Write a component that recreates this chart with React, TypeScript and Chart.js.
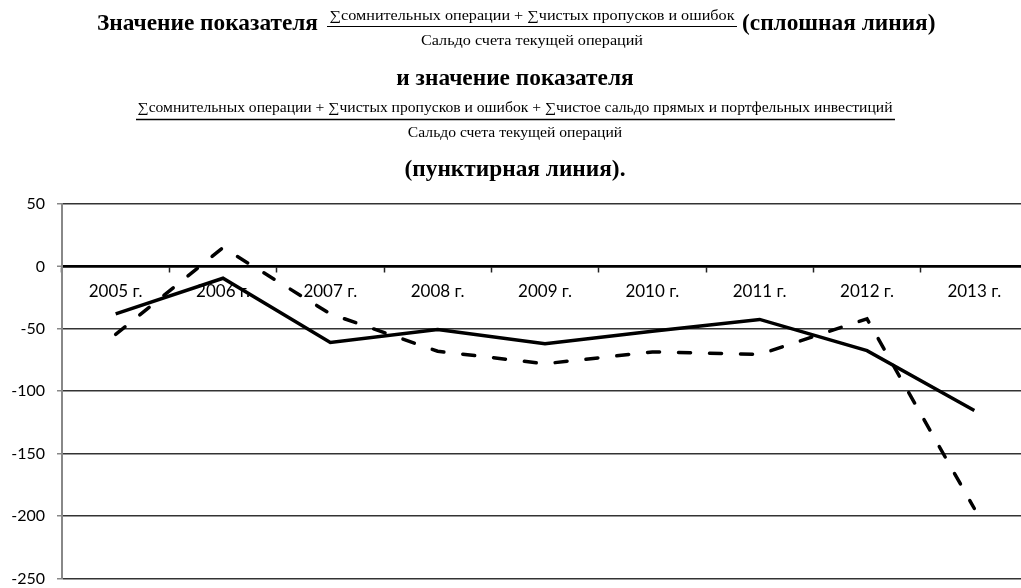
import React, { useEffect, useRef } from "react";
import { Chart, registerables } from "chart.js";

Chart.register(...registerables);

const categories = ["2005 г.", "2006 г.", "2007 г.", "2008 г.", "2009 г.", "2010 г.", "2011 г.", "2012 г.", "2013 г."];
const solidValues = [-38, -9.5, -61, -50.5, -62, -52, -42.5, -67.5, -115.5];
const dashedValues = [-54.5, 15, -38, -68, -78, -68.5, -70.5, -42, -194];
const yMin = -250;
const yMax = 50;
const yStep = 50;

const titleLead = "Значение показателя";
const titleSolid = "(сплошная линия)";
const titleLine2 = "и значение показателя";
const titleDashed = "(пунктирная линия).";
const numerator1 = "∑сомнительных операции + ∑чистых пропусков и ошибок";
const numerator2 = "∑сомнительных операции + ∑чистых пропусков и ошибок + ∑чистое сальдо прямых и портфельных инвестиций";
const denominator = "Сальдо счета текущей операций";

const BOLD = "bold 24px 'Liberation Serif', 'Times New Roman', serif";
const REG = "14px 'Liberation Serif', 'Times New Roman', serif";

function drawScaled(ctx: CanvasRenderingContext2D, text: string, font: string, x: number, y: number, sx: number, align: "left" | "center") {
  ctx.save();
  ctx.font = font;
  ctx.textBaseline = "middle";
  ctx.textAlign = align;
  ctx.fillStyle = "#000";
  ctx.translate(x, y);
  ctx.scale(sx, 1);
  ctx.fillText(text, 0, 0);
  ctx.restore();
}

function scaleFor(ctx: CanvasRenderingContext2D, text: string, font: string, width: number) {
  ctx.save();
  ctx.font = font;
  const w = ctx.measureText(text).width;
  ctx.restore();
  return width / w;
}

function hLine(ctx: CanvasRenderingContext2D, x1: number, x2: number, y: number, w: number) {
  ctx.save();
  ctx.strokeStyle = "#000";
  ctx.lineWidth = w;
  ctx.beginPath();
  ctx.moveTo(x1, y);
  ctx.lineTo(x2, y);
  ctx.stroke();
  ctx.restore();
}

const titlePlugin = {
  id: "formulaTitle",
  beforeDraw(chart: any) {
    const ctx: CanvasRenderingContext2D = chart.ctx;
    const sb = scaleFor(ctx, titleLead, BOLD, 221);
    drawScaled(ctx, titleLead, BOLD, 97, 24, sb, "left");
    drawScaled(ctx, titleSolid, BOLD, 742, 24, sb, "left");
    drawScaled(ctx, titleLine2, BOLD, 515, 79, sb, "center");
    drawScaled(ctx, titleDashed, BOLD, 515, 170, sb, "center");

    const s1 = scaleFor(ctx, numerator1, REG, 405);
    drawScaled(ctx, numerator1, REG, 532, 16, s1, "center");
    drawScaled(ctx, denominator, REG, 532, 41, s1, "center");
    hLine(ctx, 327, 737, 26.5, 1);

    const s2 = scaleFor(ctx, numerator2, REG, 755);
    drawScaled(ctx, numerator2, REG, 515, 108, s2, "center");
    drawScaled(ctx, denominator, REG, 515, 133, s2, "center");
    hLine(ctx, 136, 895, 119.5, 1.5);
  },
};

export default function App() {
  const ref = useRef<HTMLCanvasElement>(null);
  useEffect(() => {
    if (!ref.current) return;
    const chart = new Chart(ref.current, {
      type: "line",
      data: {
        labels: categories,
        datasets: [
          {
            label: "dashed",
            data: dashedValues,
            borderColor: "#000",
            borderWidth: 3.5,
            borderDash: [12, 19],
            borderCapStyle: "round",
            pointRadius: 0,
            fill: false,
            tension: 0,
          },
          {
            label: "solid",
            data: solidValues,
            borderColor: "#000",
            borderWidth: 3.5,
            pointRadius: 0,
            fill: false,
            tension: 0,
          },
        ],
      },
      options: {
        responsive: false,
        animation: false,
        devicePixelRatio: 1,
        layout: { padding: { left: 0, top: 204, right: 12, bottom: 18 } },
        plugins: { legend: { display: false }, tooltip: { enabled: false }, title: { display: false } },
        scales: {
          x: {
            type: "category",
            offset: true,
            position: { y: 0 },
            grid: {
              offset: true,
              drawOnChartArea: false,
              drawTicks: true,
              tickLength: 5,
              tickColor: "#222",
              tickWidth: 1.5,
            },
            border: { display: true, color: "#000", width: 2.5 },
            ticks: {
              color: "#000",
              padding: 10,
              maxRotation: 0,
              autoSkip: false,
              font: { family: "Lato, 'Open Sans', sans-serif", size: 17 },
            },
          },
          y: {
            min: yMin,
            max: yMax,
            afterFit(scale: any) {
              scale.width = 62;
            },
            grid: {
              color: (c: any) => (c.tick && c.tick.value === 0 ? "#000" : "#333"),
              lineWidth: (c: any) => (c.tick && c.tick.value === 0 ? 2.5 : 1.5),
              tickColor: "#888",
              tickLength: 5,
              tickWidth: 1.5,
            },
            border: { display: true, color: "#888", width: 2 },
            ticks: {
              stepSize: yStep,
              color: "#000",
              padding: 12,
              font: { family: "Lato, 'Open Sans', sans-serif", size: 16 },
            },
          },
        },
      },
      plugins: [titlePlugin],
    } as any);
    return () => chart.destroy();
  }, []);
  return (
    <div style={{ position: "absolute", left: 0, top: 0, width: 1021, height: 588, overflow: "hidden", background: "#fff" }}>
      <canvas ref={ref} width={1040} height={600} style={{ display: "block" }} />
    </div>
  );
}
